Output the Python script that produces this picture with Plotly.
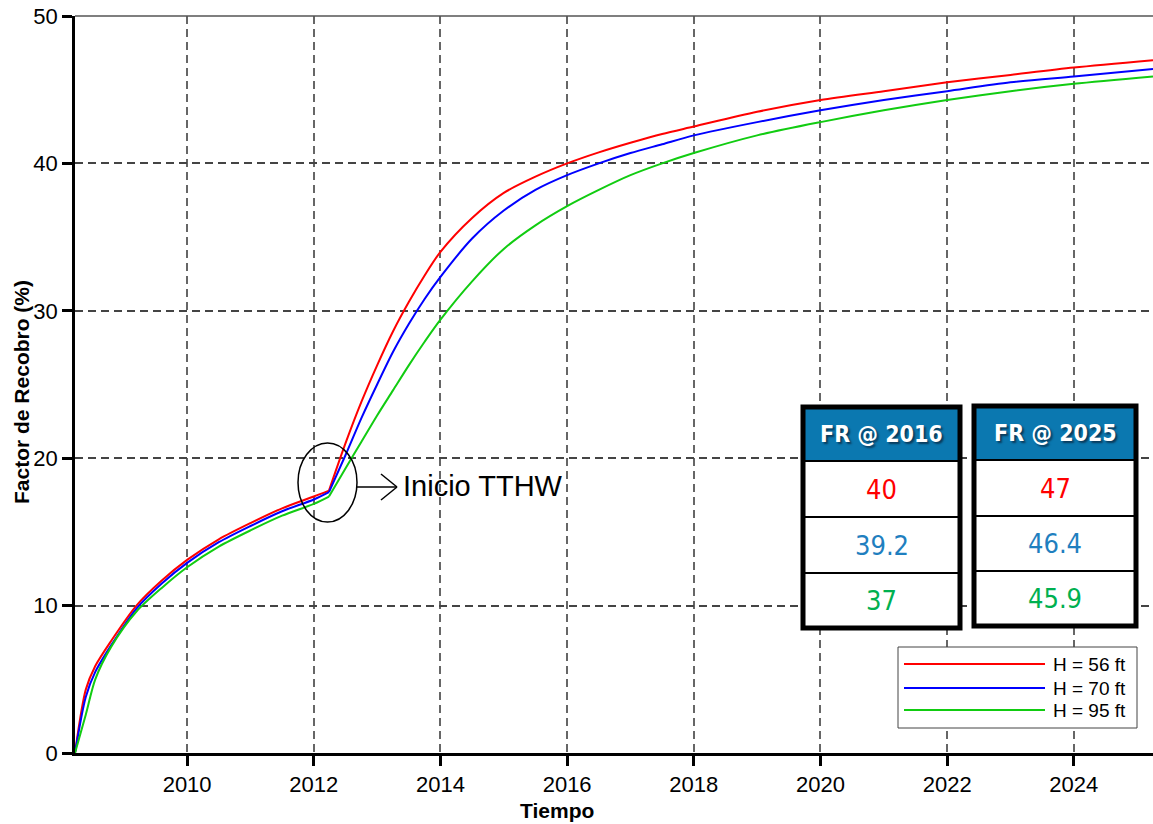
import plotly.graph_objects as go

# ---------------- data ----------------
t = [2008.23, 2008.4, 2008.55, 2008.8, 2009.2, 2009.6, 2010, 2010.5, 2011, 2011.5, 2012, 2012.24,
     2012.5, 2012.75, 2013.0, 2013.25, 2013.5, 2013.75, 2014.0, 2014.5, 2015.0, 2015.5, 2016.0,
     2016.5, 2017.0, 2017.5, 2018, 2019, 2020, 2021, 2022, 2023, 2024, 2025.25]
fr_56 = [0, 4.3, 5.9, 7.6, 10.0, 11.7, 13.1, 14.5, 15.6, 16.6, 17.4, 17.8,
         21.0, 23.8, 26.3, 28.6, 30.6, 32.4, 34.0, 36.3, 38.0, 39.1, 40.0,
         40.75, 41.4, 42.0, 42.5, 43.5, 44.3, 44.9, 45.5, 46.0, 46.5, 47.0]
fr_70 = [0, 3.8, 5.5, 7.3, 9.8, 11.5, 12.9, 14.3, 15.4, 16.4, 17.2, 17.7,
         20.2, 22.7, 25.0, 27.2, 29.1, 30.8, 32.3, 34.9, 36.8, 38.2, 39.2,
         40.0, 40.7, 41.3, 41.9, 42.8, 43.6, 44.3, 44.9, 45.5, 45.9, 46.4]
fr_95 = [0, 2.6, 5.0, 7.2, 9.6, 11.2, 12.6, 14.0, 15.1, 16.1, 16.9, 17.4,
         19.3, 21.1, 22.9, 24.6, 26.3, 27.9, 29.4, 32.0, 34.2, 35.8, 37.1,
         38.2, 39.2, 40.0, 40.7, 41.9, 42.8, 43.6, 44.3, 44.9, 45.4, 45.9]
break_index = 11  # start of TTHW (2012.24)
series_names = ["H = 56 ft", "H = 70 ft", "H = 95 ft"]
series_colors = ["#ff0000", "#0000ff", "#11cc11"]
x_ticks = [2010, 2012, 2014, 2016, 2018, 2020, 2022, 2024]
y_ticks = [0, 10, 20, 30, 40, 50]
table_headers = ["FR @ 2016", "FR @ 2025"]
fr_2016 = ["40", "39.2", "37"]
fr_2025 = ["47", "46.4", "45.9"]
value_colors = ["#ff0000", "#1f7fbf", "#00b050"]

# ---------------- figure ----------------
W, H = 1153, 824
L, R, T, B = 75, 0, 16, 71
PW, PH = W - L - R, H - T - B


def px(x):  # page pixel -> paper
    return (x - L) / PW


def py(y):
    return (H - B - y) / PH


fig = go.Figure()
k = break_index
for ys, name, col in zip([fr_56, fr_70, fr_95], series_names, series_colors):
    fig.add_trace(go.Scatter(x=t[:k + 1], y=ys[:k + 1], mode="lines", name=name,
                             line=dict(color=col, width=2, shape="spline", smoothing=0.8),
                             showlegend=False))
    fig.add_trace(go.Scatter(x=t[k:], y=ys[k:], mode="lines", name=name,
                             line=dict(color=col, width=2, shape="spline", smoothing=0.8),
                             showlegend=False))

shapes = []
annotations = []

# top border
shapes.append(dict(type="line", xref="paper", yref="paper", x0=0, x1=1, y0=1, y1=1,
                   line=dict(color="#555555", width=1.5)))

# ellipse + arrow + label
shapes.append(dict(type="circle", xref="paper", yref="paper",
                   x0=px(298), x1=px(357), y0=py(522), y1=py(443),
                   line=dict(color="black", width=1.5)))
for (a, b, c, d) in [(357, 487, 397, 487), (381, 474, 397, 487), (381, 500, 397, 487)]:
    shapes.append(dict(type="line", xref="paper", yref="paper",
                       x0=px(a), y0=py(b), x1=px(c), y1=py(d),
                       line=dict(color="black", width=1.5)))
annotations.append(dict(text="Inicio TTHW", xref="paper", yref="paper", x=px(401), y=py(486),
                        xanchor="left", yanchor="middle", showarrow=False,
                        font=dict(family="Arial", size=29, color="black")))

# tables
tables = [
    dict(x0=803, x1=960, top=407, rows=[461, 517, 573, 628], header=table_headers[0], vals=fr_2016),
    dict(x0=974, x1=1136, top=406, rows=[460, 516, 571, 626], header=table_headers[1], vals=fr_2025),
]
tfont = "DejaVu Sans Condensed, Liberation Sans Narrow, Arial"
for tb in tables:
    x0, x1, top = tb["x0"], tb["x1"], tb["top"]
    rows = tb["rows"]
    bottom = rows[-1]
    shapes.append(dict(type="rect", xref="paper", yref="paper", x0=px(x0), x1=px(x1),
                       y0=py(bottom), y1=py(top), fillcolor="white", line=dict(width=0)))
    shapes.append(dict(type="rect", xref="paper", yref="paper", x0=px(x0), x1=px(x1),
                       y0=py(rows[0]), y1=py(top), fillcolor="#0b78b0", line=dict(width=0)))
    for r in rows[:-1]:
        shapes.append(dict(type="line", xref="paper", yref="paper", x0=px(x0), x1=px(x1),
                           y0=py(r), y1=py(r), line=dict(color="black", width=2)))
    shapes.append(dict(type="rect", xref="paper", yref="paper", x0=px(x0), x1=px(x1),
                       y0=py(bottom), y1=py(top), line=dict(color="black", width=5)))
    cx = px((x0 + x1) / 2)
    annotations.append(dict(text=tb["header"], xref="paper", yref="paper", x=cx,
                            y=py((top + rows[0]) / 2), showarrow=False,
                            xanchor="center", yanchor="middle",
                            font=dict(family=tfont, size=23, color="white", weight="bold",
                                      shadow="2px 2px 2px #0a3a5a")))
    for i, (v, c) in enumerate(zip(tb["vals"], value_colors)):
        annotations.append(dict(text=v, xref="paper", yref="paper", x=cx,
                                y=py((rows[i] + rows[i + 1]) / 2), showarrow=False,
                                xanchor="center", yanchor="middle",
                                font=dict(family=tfont, size=27, color=c)))

# legend box
shapes.append(dict(type="rect", xref="paper", yref="paper", x0=px(898), x1=px(1137),
                   y0=py(728), y1=py(647), fillcolor="white",
                   line=dict(color="#444444", width=1)))
for i, (name, col) in enumerate(zip(series_names, series_colors)):
    yy = [664, 688, 710][i]
    shapes.append(dict(type="line", xref="paper", yref="paper", x0=px(904), x1=px(1045),
                       y0=py(yy), y1=py(yy), line=dict(color=col, width=2)))
    annotations.append(dict(text=name, xref="paper", yref="paper", x=px(1051), y=py(yy),
                            xanchor="left", yanchor="middle", showarrow=False,
                            font=dict(family="Arial", size=19, color="black")))

# axis titles
annotations.append(dict(text="<b>Tiempo</b>", xref="paper", yref="paper", x=px(557), y=py(810),
                        xanchor="center", yanchor="middle", showarrow=False,
                        font=dict(family="Arial", size=21, color="black")))
annotations.append(dict(text="<b>Factor de Recobro (%)</b>", xref="paper", yref="paper",
                        x=px(21), y=py(392), xanchor="center", yanchor="middle",
                        textangle=-90, showarrow=False,
                        font=dict(family="Arial", size=21, color="black")))

fig.update_layout(
    width=W, height=H,
    margin=dict(l=L, r=R, t=T, b=B, pad=0, autoexpand=False),
    paper_bgcolor="white", plot_bgcolor="white",
    shapes=shapes, annotations=annotations,
    showlegend=False,
    font=dict(family="Arial", color="black"),
)
fig.update_xaxes(range=[2008.23, 2025.25], tickvals=x_ticks, ticktext=[str(v) for v in x_ticks],
                 showline=True, linecolor="black", linewidth=2.5,
                 ticks="outside", ticklen=10, tickwidth=2.5, tickcolor="black",
                 showgrid=True, gridcolor="#666666", gridwidth=1.5, griddash="8px,5px",
                 zeroline=False, ticklabeloverflow="allow", automargin=False,
                 tickfont=dict(size=22, family="Arial", color="black"))
fig.update_yaxes(range=[0, 50], tickvals=y_ticks,
                 showline=True, linecolor="black", linewidth=2.5,
                 ticks="outside", ticklen=10, tickwidth=2.5, tickcolor="black",
                 showgrid=True, gridcolor="#444444", gridwidth=1.5, griddash="8px,5px",
                 zeroline=False, ticklabeloverflow="allow", automargin=False,
                 tickfont=dict(size=22, family="Arial", color="black"))

fig.write_html("out.html", config={"displayModeBar": False},
               post_script="document.body.style.margin='0';document.body.style.overflow='hidden';")
